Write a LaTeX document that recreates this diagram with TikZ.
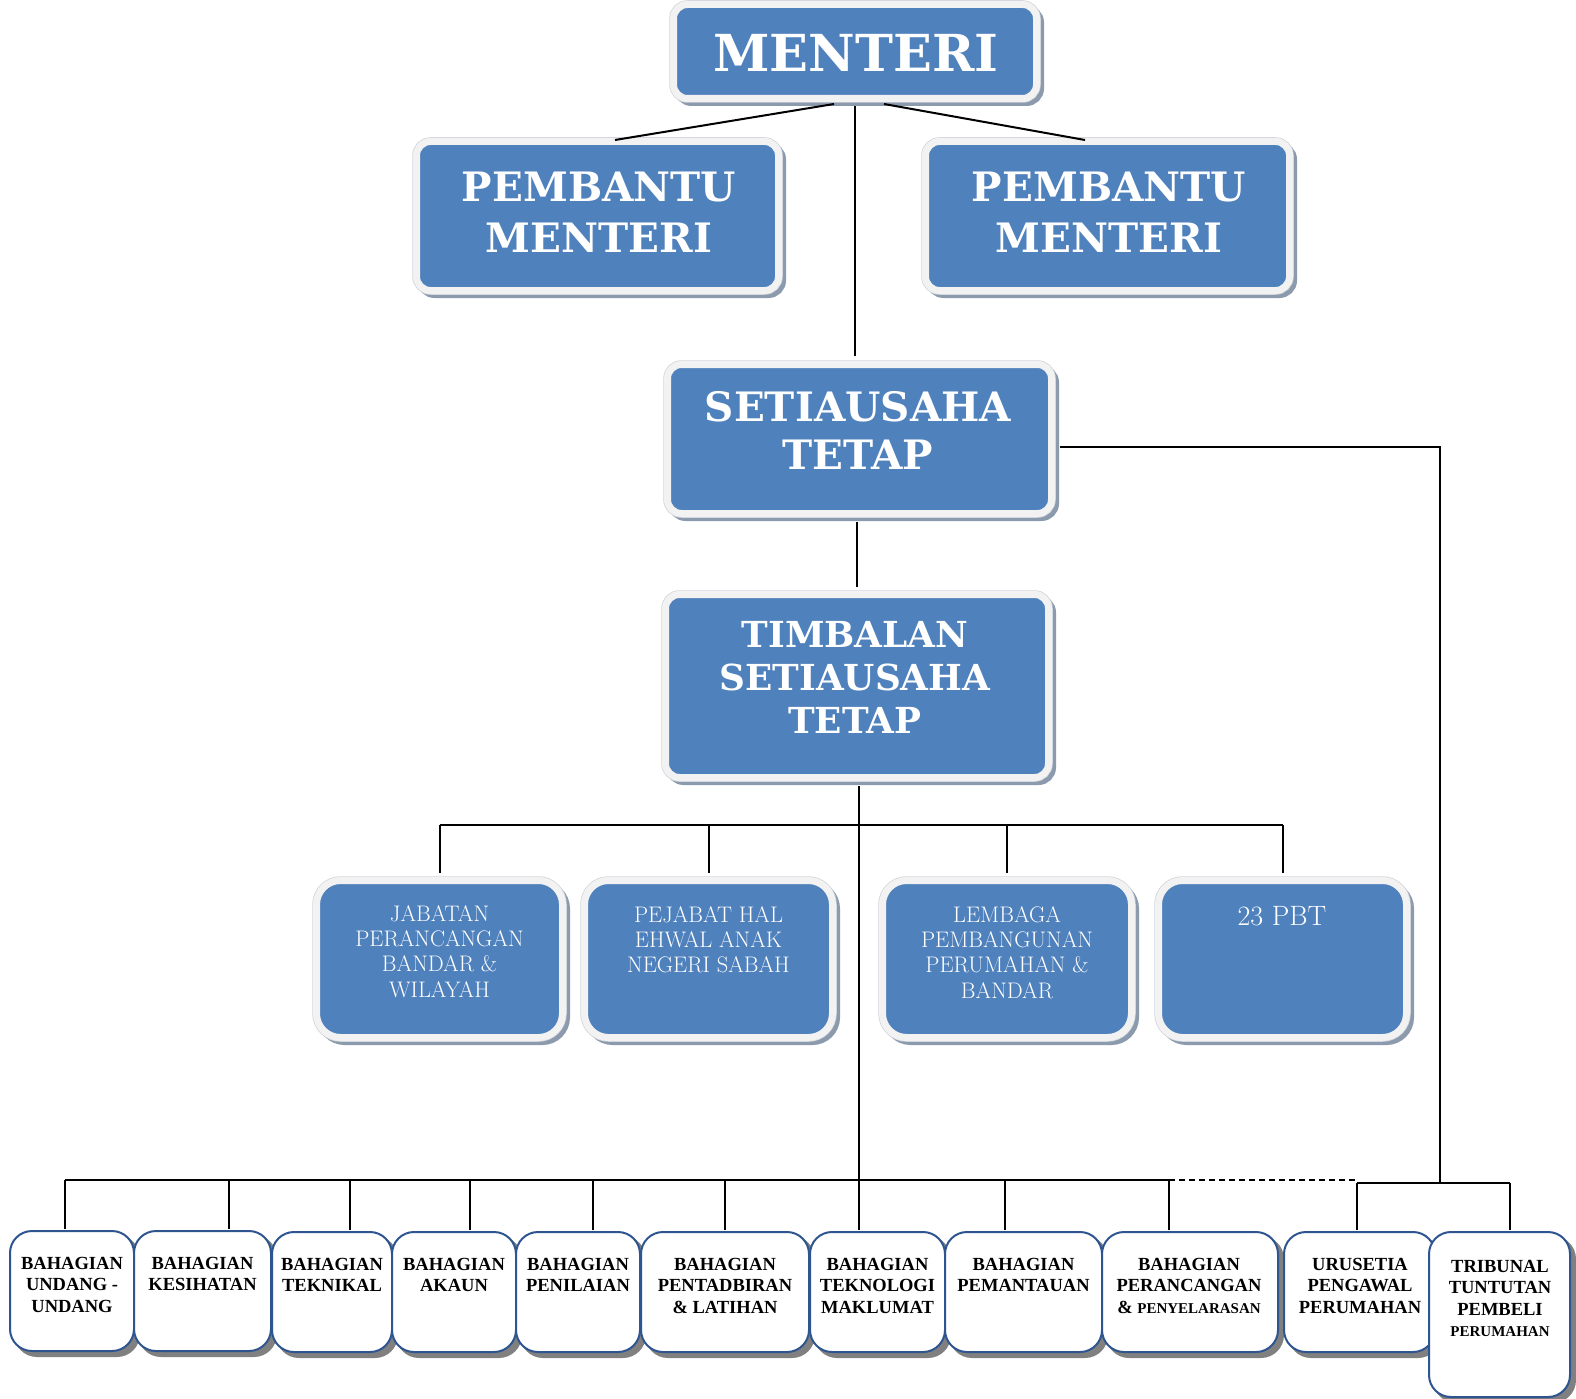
\documentclass[tikz,border=0pt]{standalone}
\usepackage{fontspec}
\newfontfamily\headfont{DejaVu Serif}
\newfontfamily\bottomfont{Liberation Serif}
\definecolor{boxblue}{HTML}{4F81BD}
\definecolor{frame}{HTML}{F2F2F2}
\definecolor{frameedge}{HTML}{D0D4DA}
\definecolor{bshadow}{HTML}{8C9AAE}
\definecolor{wborder}{HTML}{2F5590}
\definecolor{wshadow}{HTML}{808080}
\tikzset{
  conn/.style={line width=2pt, black},
  bluebox/.style={rounded corners=#1, fill=boxblue, draw=frame, line width=7pt, inner sep=0pt,
    preaction={fill=bshadow, draw=bshadow, line width=7pt, transform canvas={shift={(4pt,-4pt)}}},
    preaction={draw=frameedge, line width=8.5pt}},
  bluebox/.default=14pt,
  whitebox/.style={rounded corners=22pt, fill=white, draw=wborder, line width=2pt, inner sep=0pt,
    preaction={fill=wshadow, draw=wshadow, line width=2pt, transform canvas={shift={(5pt,-5pt)}}}},
  htext/.style={anchor=north, inner sep=0pt, text=white, align=center},
  rtext/.style={anchor=north, inner sep=0pt, text=white, align=center, font=\fontsize{22.5}{25.3}\selectfont},
  btext/.style={anchor=north, inner sep=0pt, text=black, align=center, font=\bottomfont\bfseries\fontsize{18.5}{21.5}\selectfont},
}
\begin{document}
\begin{tikzpicture}[x=1pt,y=-1pt]
\useasboundingbox (0,0) rectangle (1576,1399);
% ---------- coordinates ----------
\coordinate (menc) at (855,51.5);
\coordinate (pmlc) at (597.5,216);
\coordinate (pmrc) at (1107.5,216);
\coordinate (setc) at (859.5,439);
\coordinate (timc) at (857,686);
\coordinate (ml) at (834,104);
\coordinate (mr) at (884,104);
\coordinate (pl) at (615,140);
\coordinate (pr) at (1085,140);
\coordinate (row2) at (857,825);
\coordinate (tv) at (859,0);
\coordinate (rbus) at (1440,1183);
\coordinate (d1) at (65,1180);
\coordinate (d2) at (229,1180);
\coordinate (d3) at (350,1180);
\coordinate (d4) at (470,1180);
\coordinate (d5) at (593,1180);
\coordinate (d6) at (725,1180);
\coordinate (d8) at (1005,1180);
\coordinate (d9) at (1169,1180);
\coordinate (d10) at (1357,1183);
\coordinate (d11) at (1510,1183);
% ---------- blue boxes ----------
\node[bluebox, minimum width=363pt, minimum height=94pt] (men) at (menc) {};
\node[bluebox, minimum width=362pt, minimum height=149pt] (pml) at (pmlc) {};
\node[bluebox, minimum width=364pt, minimum height=149pt] (pmr) at (pmrc) {};
\node[bluebox, minimum width=384pt, minimum height=149pt] (set) at (setc) {};
\node[bluebox, minimum width=383pt, minimum height=183pt] (tim) at (timc) {};
\node[bluebox=24pt, minimum width=246pt, minimum height=157pt] (r1) at (439.5,959) {};
\node[bluebox=24pt, minimum width=248pt, minimum height=157pt] (r2) at (708.5,959) {};
\node[bluebox=24pt, minimum width=249pt, minimum height=157pt] (r3) at (1007,959) {};
\node[bluebox=24pt, minimum width=248pt, minimum height=157pt] (r4) at (1282.5,959) {};
% ---------- bottom boxes ----------
\node[whitebox, minimum width=124pt, minimum height=120pt] (b1) at (72,1291) {};
\node[whitebox, minimum width=137pt, minimum height=120pt] (b2) at (202.5,1291) {};
\node[whitebox, minimum width=120pt, minimum height=120pt] (b3) at (332,1292) {};
\node[whitebox, minimum width=124pt, minimum height=120pt] (b4) at (454,1292) {};
\node[whitebox, minimum width=124pt, minimum height=120pt] (b5) at (578,1292) {};
\node[whitebox, minimum width=168pt, minimum height=120pt] (b6) at (725,1292) {};
\node[whitebox, minimum width=135pt, minimum height=120pt] (b7) at (877.5,1292) {};
\node[whitebox, minimum width=157pt, minimum height=120pt] (b8) at (1023.5,1292) {};
\node[whitebox, minimum width=176pt, minimum height=120pt] (b9) at (1190,1292) {};
\node[whitebox, minimum width=151pt, minimum height=120pt] (b10) at (1359.5,1292) {};
\node[whitebox, minimum width=141pt, minimum height=165pt] (b11) at (1499.5,1314.5) {};
% ---------- connectors ----------
\draw[conn] (ml) -- (pl);
\draw[conn] (mr) -- (pr);
\draw[conn] ([yshift=-4.5pt]men.south) -- ([yshift=5pt]men.south |- set.north);
\draw[conn] ([yshift=-5pt]tim.north |- set.south) -- ([yshift=4.5pt]tim.north);
\draw[conn] ([yshift=-5pt]tv |- tim.south) -- ([yshift=1pt]tv |- b7.north);
\draw[conn] (r1.north |- row2) -- (r4.north |- row2);
\foreach \r in {r1,r2,r3,r4} \draw[conn] (\r.north |- row2) -- ([yshift=4.5pt]\r.north);
\draw[conn] (d1) -- (d9);
\draw[conn, dash pattern=on 6pt off 4pt] (d9) -- (d10 |- d9);
\draw[conn] (d10) -- (d11);
\draw[conn] ([xshift=4.5pt]set.east |- 0,447) -- (rbus |- 0,447) -- (rbus);
\foreach \d/\b in {d1/b1,d2/b2,d3/b3,d4/b4,d5/b5,d6/b6,d8/b8,d9/b9,d10/b10,d11/b11}
  \draw[conn] (\d) -- ([yshift=1pt]\d |- \b.north);
% ---------- texts ----------
\node[htext, font=\headfont\bfseries\fontsize{51}{51}\selectfont] (tmen) at (856,34) {MENTERI};
\node[htext, font=\headfont\bfseries\fontsize{40.5}{51}\selectfont] (tpml) at (599,172) {PEMBANTU\\MENTERI};
\node[htext, font=\headfont\bfseries\fontsize{40.5}{51}\selectfont] (tpmr) at (1109,172) {PEMBANTU\\MENTERI};
\node[htext, font=\headfont\bfseries\fontsize{40.5}{48}\selectfont] (tset) at (858,391) {SETIAUSAHA\\TETAP};
\node[htext, font=\headfont\bfseries\fontsize{35.8}{43}\selectfont] (ttim) at (855,621) {TIMBALAN\\SETIAUSAHA\\TETAP};
\node[rtext] (tr1) at (439.5,905) {JABATAN\\PERANCANGAN\\BANDAR \&\\WILAYAH};
\node[rtext] (tr2) at (708.5,906) {PEJABAT HAL\\EHWAL ANAK\\NEGERI SABAH};
\node[rtext] (tr3) at (1007,906) {LEMBAGA\\PEMBANGUNAN\\PERUMAHAN \&\\BANDAR};
\node[rtext, font=\fontsize{28}{30}\selectfont] (tr4) at (1282,906) {23 PBT};
\node[btext] (tb1) at (72,1257) {BAHAGIAN\\UNDANG -\\UNDANG};
\node[btext] (tb2) at (202.5,1257) {BAHAGIAN\\KESIHATAN};
\node[btext] (tb3) at (332,1258) {BAHAGIAN\\TEKNIKAL};
\node[btext] (tb4) at (454,1258) {BAHAGIAN\\AKAUN};
\node[btext] (tb5) at (578,1258) {BAHAGIAN\\PENILAIAN};
\node[btext] (tb6) at (725,1258) {BAHAGIAN\\PENTADBIRAN\\\& LATIHAN};
\node[btext] (tb7) at (877.5,1258) {BAHAGIAN\\TEKNOLOGI\\MAKLUMAT};
\node[btext] (tb8) at (1023.5,1258) {BAHAGIAN\\PEMANTAUAN};
\node[btext] (tb9) at (1189,1258) {BAHAGIAN\\PERANCANGAN\\\& {\fontsize{15}{21.5}\selectfont PENYELARASAN}};
\node[btext] (tb10) at (1360,1258) {URUSETIA\\PENGAWAL\\PERUMAHAN};
\node[btext] (tb11) at (1500,1260) {TRIBUNAL\\TUNTUTAN\\PEMBELI\\{\fontsize{15}{21.5}\selectfont PERUMAHAN}};
\end{tikzpicture}
\end{document}
